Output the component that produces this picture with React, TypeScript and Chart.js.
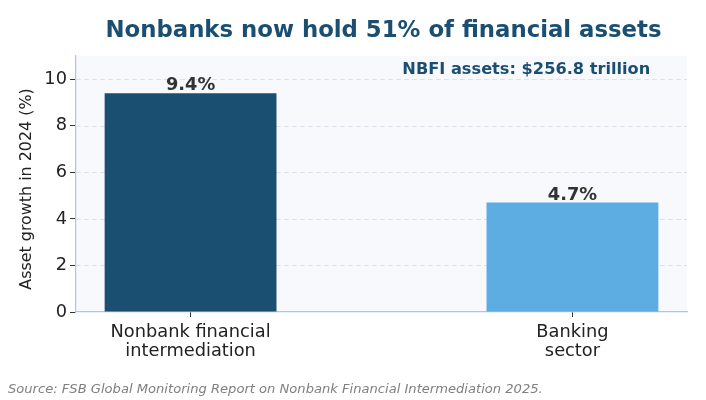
import { Chart, registerables } from 'chart.js';
import { useEffect, useRef } from 'react';

Chart.register(...registerables);

// data
const categories = [['Nonbank financial', 'intermediation'], ['Banking', 'sector']];
const growth = [9.4, 4.7];
const barColors = ['#1b4f72', '#5dade2'];
const yTicks = [0, 2, 4, 6, 8, 10];

const FONT = "'DejaVu Sans', sans-serif";

const textPlugin = {
  id: 'texts',
  beforeDraw(chart: any) {
    const { ctx, chartArea } = chart;
    ctx.save();
    ctx.fillStyle = '#f8f9fc';
    ctx.fillRect(chartArea.left, chartArea.top, chartArea.right - chartArea.left, chartArea.bottom - chartArea.top);
    ctx.restore();
  },
  beforeDatasetsDraw(chart: any) {
    // dashed horizontal grid lines at the y ticks
    const { ctx, chartArea } = chart;
    const y = chart.scales.y;
    ctx.save();
    ctx.strokeStyle = '#dde2ea';
    ctx.lineWidth = 1;
    ctx.setLineDash([5, 3]);
    y.ticks.forEach((t: any) => {
      if (t.value === 0) return;
      const py = Math.round(y.getPixelForValue(t.value)) + 0.5;
      ctx.beginPath();
      ctx.moveTo(chartArea.left, py);
      ctx.lineTo(chartArea.right, py);
      ctx.stroke();
    });
    ctx.restore();
  },
  afterDraw(chart: any) {
    const { ctx, chartArea } = chart;
    const x = chart.scales.x;
    const y = chart.scales.y;
    ctx.save();

    // title
    ctx.fillStyle = '#1b4f72';
    ctx.font = `bold 22.8px ${FONT}`;
    ctx.textAlign = 'center';
    ctx.textBaseline = 'middle';
    ctx.fillText('Nonbanks now hold 51% of financial assets', (chartArea.left + chartArea.right) / 2 + 2, 31);

    // annotation
    ctx.font = `bold 16.2px ${FONT}`;
    ctx.fillText('NBFI assets: $256.8 trillion', chartArea.left + 0.737 * (chartArea.right - chartArea.left), 70);

    // value labels
    ctx.fillStyle = '#333333';
    ctx.font = `bold 17.8px ${FONT}`;
    ctx.textBaseline = 'alphabetic';
    growth.forEach((v, i) => {
      ctx.fillText(`${v.toFixed(1)}%`, x.getPixelForValue(i), y.getPixelForValue(v) - 3);
    });

    // y axis label
    ctx.fillStyle = '#222222';
    ctx.font = `15.9px ${FONT}`;
    ctx.textBaseline = 'middle';
    ctx.translate(27, 189);
    ctx.rotate(-Math.PI / 2);
    ctx.fillText('Asset growth in 2024 (%)', 0, 0);
    ctx.restore();

    // source
    ctx.save();
    ctx.fillStyle = '#808080';
    ctx.font = `italic 13.1px ${FONT}`;
    ctx.textAlign = 'left';
    ctx.textBaseline = 'middle';
    ctx.fillText('Source: FSB Global Monitoring Report on Nonbank Financial Intermediation 2025.', 8, 390);
    ctx.restore();
  },
};

const GrowthChart = () => {
  const canvasRef = useRef<HTMLCanvasElement | null>(null);

  useEffect(() => {
    if (!canvasRef.current) return;

    const chart = new Chart(canvasRef.current, {
      type: 'bar',
      data: {
        datasets: [
          {
            data: growth.map((v, i) => ({ x: i, y: v })),
            backgroundColor: barColors,
            borderWidth: 0,
            barPercentage: 0.45,
            categoryPercentage: 1,
          },
        ],
      },
      options: {
        animation: false,
        responsive: true,
        maintainAspectRatio: false,
        layout: { padding: { left: 0, top: 56, right: 19, bottom: 0 } },
        plugins: {
          legend: { display: false },
          tooltip: { enabled: false },
          title: { display: false },
        },
        scales: {
          x: {
            type: 'linear',
            min: -0.3,
            max: 1.3,
            offset: false,
            afterBuildTicks: (axis: any) => {
              axis.ticks = categories.map((_, i) => ({ value: i }));
            },
            afterFit: (axis: any) => {
              axis.height = 88;
            },
            ticks: {
              callback: (v: any) => categories[v as number],
              color: '#222222',
              font: { family: FONT, size: 17.8, lineHeight: 1.08 },
              padding: 6,
              maxRotation: 0,
              autoSkip: false,
            },
            grid: {
              offset: false,
              drawOnChartArea: false,
              drawTicks: true,
              tickLength: 5,
              tickColor: '#333333',
              tickWidth: 1,
            },
            border: { color: '#a8c6ea', width: 1.2 },
          },
          y: {
            min: 0,
            max: 11,
            afterBuildTicks: (axis: any) => {
              axis.ticks = yTicks.map((v) => ({ value: v }));
            },
            afterFit: (axis: any) => {
              axis.width = 76;
            },
            ticks: {
              color: '#222222',
              font: { family: FONT, size: 17.8 },
              padding: 3,
            },
            grid: {
              drawOnChartArea: false,
              drawTicks: true,
              tickColor: '#333333',
              tickLength: 6,
              tickWidth: 1,
            },
            border: { color: '#a8c6ea', width: 1.2 },
          },
        },
      } as any,
      plugins: [textPlugin],
    });

    return () => {
      chart.destroy();
    };
  }, []);

  return <canvas ref={canvasRef}></canvas>;
};

export default function App() {
  return (
    <div style={{ position: 'fixed', left: 0, top: 0, width: 706, height: 400, background: '#ffffff' }}>
      <GrowthChart />
    </div>
  );
}
